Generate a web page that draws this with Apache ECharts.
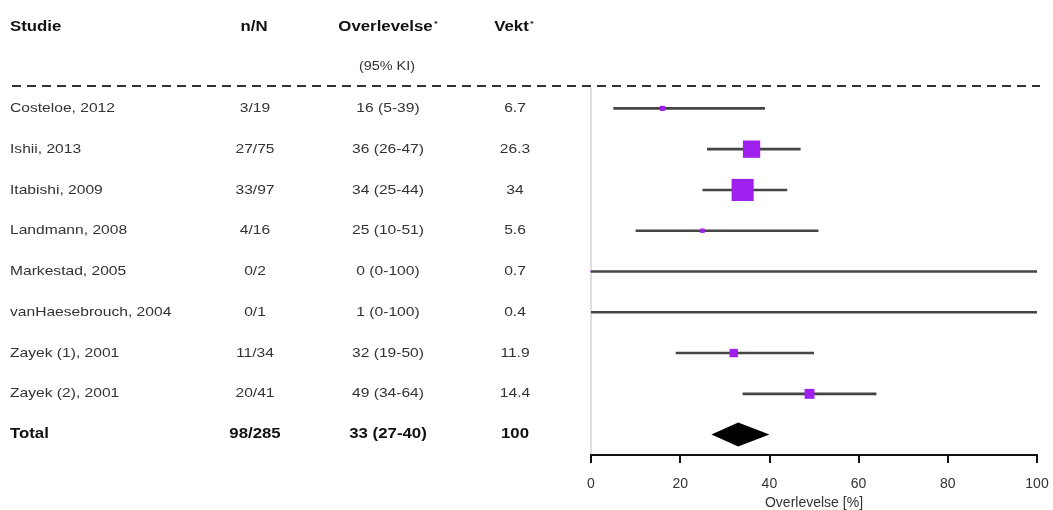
<!DOCTYPE html>
<html>
<head>
<meta charset="utf-8">
<script src="https://cdn.jsdelivr.net/npm/echarts@6/dist/echarts.min.js"></script>
<style>html,body{margin:0;padding:0;background:#fff;}#c{width:1053px;height:510px;}</style>
</head>
<body>
<div id="c"></div>
<script>
var studies = ['Costeloe, 2012','Ishii, 2013','Itabishi, 2009','Landmann, 2008','Markestad, 2005','vanHaesebrouch, 2004','Zayek (1), 2001','Zayek (2), 2001','Total'];
var nN = ['3/19','27/75','33/97','4/16','0/2','0/1','11/34','20/41','98/285'];
var est = [16,36,34,25,0,1,32,49];
var lower = [5,26,25,10,0,0,19,34];
var upper = [39,47,44,51,100,100,50,64];
var weights = [6.7,26.3,34,5.6,0.7,0.4,11.9,14.4];
var totalEst = 33, totalLower = 27, totalUpper = 40, totalWeight = 100;
var xTicks = [0,20,40,60,80,100];

var ciText = est.map(function(e,i){return e+' ('+lower[i]+'-'+upper[i]+')';});
ciText.push(totalEst+' ('+totalLower+'-'+totalUpper+')');
var vektText = weights.map(String); vektText.push(String(totalWeight));

var chart = echarts.init(document.getElementById('c'));
var FONT = 'Liberation Sans, Arial, sans-serif';
var rows = studies.map(function(s,i){return i;});
var SX = 1.2;
var colX = {studie:10, nn:255, ci:388, vekt:515};

function hdr(x, t, withStar){
  return {type:'text',x:x,y:27,scaleX:SX,style:{
    text: withStar ? '{a|'+t+'}{s|*}' : '{a|'+t+'}',
    align: x===10?'left':'center', verticalAlign:'middle',
    rich:{a:{font:'bold 14px '+FONT,fill:'#111'},
          s:{font:'bold 8px '+FONT,fill:'#111',verticalAlign:'top',padding:[0,0,7,1]}}}};
}

var option = {
  animation:false,
  backgroundColor:'#fff',
  textStyle:{fontFamily:FONT},
  grid:{left:591,right:16,top:88,bottom:55,containLabel:false,outerBoundsMode:'none'},
  xAxis:{type:'value',min:0,max:100,interval:20,
    axisLine:{show:true,lineStyle:{color:'#111',width:2}},
    axisTick:{show:true,length:8,lineStyle:{color:'#111',width:2}},
    axisLabel:{margin:22,fontSize:14,color:'#333',fontFamily:FONT,
      formatter:function(v){return xTicks.indexOf(v)>=0?String(v):'';}},
    splitLine:{show:false},
    name:'Overlevelse [%]',nameLocation:'middle',nameGap:32,
    nameTextStyle:{fontSize:14,color:'#333',fontFamily:FONT}
  },
  yAxis:{type:'category',data:studies,inverse:true,
    axisLine:{show:true,onZero:false,lineStyle:{color:'#d4d4d4',width:1.5}},
    axisTick:{show:false},axisLabel:{show:false},splitLine:{show:false}},
  graphic:[
    hdr(10,'Studie',false),
    hdr(254,'n/N',false),
    hdr(388,'Overlevelse',true),
    hdr(514,'Vekt',true),
    {type:'text',x:387,y:67,scaleX:SX,style:{text:'(95% KI)',font:'12px '+FONT,fill:'#333',align:'center',verticalAlign:'middle'}},
    {type:'line',shape:{x1:12,y1:86,x2:1040,y2:86},style:{stroke:'#333',lineWidth:2.2,lineDash:[9,6]}}
  ],
  series:[
    {type:'custom',clip:false,data:rows,
      renderItem:function(params,api){
        var i = api.value(0);
        var y = api.coord([0,i])[1];
        var bold = i===studies.length-1;
        var f = (bold?'bold 14px ':'13px ')+FONT;
        var c = bold?'#111':'#333';
        function t(x,s,al){return {type:'text',x:x,y:y,scaleX:SX,style:{text:s,font:f,fill:c,align:al,verticalAlign:'middle'}};}
        return {type:'group',children:[
          t(colX.studie,studies[i],'left'),
          t(colX.nn,nN[i],'center'),
          t(colX.ci,ciText[i],'center'),
          t(colX.vekt,vektText[i],'center')
        ]};
      },
      encode:{x:-1,y:0},silent:true,z:5
    },
    {type:'custom',clip:false,
      data:est.map(function(e,i){return [lower[i],upper[i],i];}),
      encode:{x:[0,1],y:2},
      renderItem:function(params,api){
        var p1 = api.coord([api.value(0),api.value(2)]);
        var p2 = api.coord([api.value(1),api.value(2)]);
        return {type:'line',shape:{x1:p1[0],y1:p1[1],x2:p2[0],y2:p2[1]},style:{stroke:'#454545',lineWidth:2.6}};
      },z:3
    },
    {type:'scatter',symbol:'rect',
      data:est.map(function(e,i){return [e,i,weights[i]];}),
      symbolSize:function(v){return 0.62*v[2]+1;},
      itemStyle:{color:'#A020F0',opacity:1},z:6
    },
    {type:'custom',clip:false,
      data:[[totalLower,totalEst,totalUpper,studies.length-1]],
      encode:{x:[0,1,2],y:3},
      renderItem:function(params,api){
        var r = api.value(3);
        var l = api.coord([api.value(0),r]);
        var m = api.coord([api.value(1),r]);
        var u = api.coord([api.value(2),r]);
        var h = 12;
        return {type:'polygon',shape:{points:[[l[0],l[1]],[m[0],m[1]-h],[u[0],u[1]],[m[0],m[1]+h]]},style:{fill:'#000'}};
      },z:4
    }
  ]
};
chart.setOption(option);
</script>
</body>
</html>
